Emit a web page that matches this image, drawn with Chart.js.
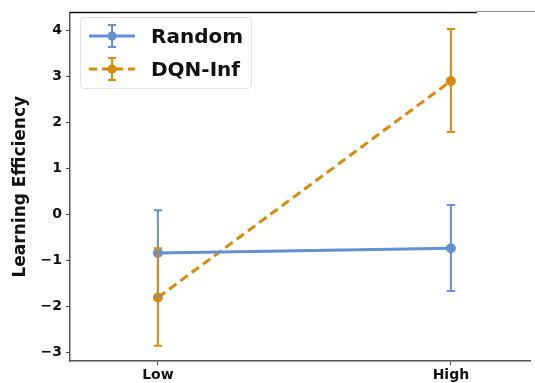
<!DOCTYPE html>
<html>
<head>
<meta charset="utf-8">
<script src="https://cdn.jsdelivr.net/npm/chart.js@4/dist/chart.umd.min.js"></script>
<style>
  body { margin: 0; background: #fff; }
  #wrap { position: relative; width: 535px; height: 383px; }
  #legend {
    position: absolute; left: 80px; top: 17px; width: 170px; height: 70px;
    border: 1px solid #e2e2e2; border-radius: 4px; background: rgba(255,255,255,0.9);
    font-family: "DejaVu Sans", sans-serif; font-weight: bold; font-size: 20px; color: #111;
  }
  .row { position: absolute; left: 8px; height: 30px; display: flex; align-items: center; }
  .row span { margin-left: 16px; }
</style>
</head>
<body>
<div id="wrap">
  <canvas id="chart" width="535" height="383"></canvas>
  <div id="legend">
    <div class="row" style="top:3px">
      <svg width="46" height="30"><line x1="0" y1="15" x2="46" y2="15" stroke="#6390d2" stroke-width="3"/><line x1="23" y1="4" x2="23" y2="26" stroke="#6390d2" stroke-width="2"/><line x1="19" y1="4" x2="27" y2="4" stroke="#6390d2" stroke-width="2"/><line x1="19" y1="26" x2="27" y2="26" stroke="#6390d2" stroke-width="2"/><circle cx="23" cy="15" r="4.5" fill="#6390d2"/></svg>
      <span>Random</span>
    </div>
    <div class="row" style="top:36px">
      <svg width="46" height="30"><line x1="0" y1="15" x2="46" y2="15" stroke="#d98a0c" stroke-width="3" stroke-dasharray="8 5"/><line x1="23" y1="4" x2="23" y2="26" stroke="#d98a0c" stroke-width="2"/><line x1="19" y1="4" x2="27" y2="4" stroke="#d98a0c" stroke-width="2"/><line x1="19" y1="26" x2="27" y2="26" stroke="#d98a0c" stroke-width="2"/><circle cx="23" cy="15" r="4.5" fill="#d98a0c"/></svg>
      <span>DQN-Inf</span>
    </div>
  </div>
</div>
<script>
// data
const categories = ["Low", "High"];
const randomMean = [-0.84, -0.74];
const randomLow = [-1.78, -1.67];
const randomHigh = [0.09, 0.20];
const dqnMean = [-1.81, 2.90];
const dqnLow = [-2.86, 1.79];
const dqnHigh = [-0.74, 4.03];
const yTicks = [-3, -2, -1, 0, 1, 2, 3, 4];

const blue = "#6390d2";
const orange = "#d98a0c";
const tickFont = { family: "DejaVu Sans", weight: "bold", size: 14 };

function toPoints(vals) {
  return vals.map((v, i) => ({ x: i, y: v }));
}

// error bars drawn with the chart's own scales
const errorBars = {
  id: "errorBars",
  afterDatasetsDraw(chart) {
    const ctx = chart.ctx;
    const xs = chart.scales.x, ys = chart.scales.y;
    chart.data.datasets.forEach(ds => {
      ctx.save();
      ctx.strokeStyle = ds.borderColor;
      ctx.lineWidth = 2;
      ds.errLow.forEach((lo, i) => {
        const px = xs.getPixelForValue(i);
        const y1 = ys.getPixelForValue(lo);
        const y2 = ys.getPixelForValue(ds.errHigh[i]);
        ctx.beginPath();
        ctx.moveTo(px, y1); ctx.lineTo(px, y2);
        ctx.moveTo(px - 4, y1); ctx.lineTo(px + 4, y1);
        ctx.moveTo(px - 4, y2); ctx.lineTo(px + 4, y2);
        ctx.stroke();
      });
      ctx.restore();
    });
  }
};

// top spine
const topSpine = {
  id: "topSpine",
  afterDraw(chart) {
    const a = chart.chartArea, ctx = chart.ctx;
    ctx.save();
    ctx.strokeStyle = "#111";
    ctx.lineWidth = 1.5;
    ctx.beginPath();
    ctx.moveTo(a.left, a.top); ctx.lineTo(477, a.top);
    ctx.stroke();
    ctx.strokeStyle = "#888";
    ctx.lineWidth = 1;
    ctx.beginPath();
    ctx.moveTo(477, a.top - 1); ctx.lineTo(535, a.top - 1);
    ctx.stroke();
    ctx.restore();
  }
};

new Chart(document.getElementById("chart"), {
  type: "line",
  data: {
    datasets: [
      {
        label: "Random",
        data: toPoints(randomMean),
        errLow: randomLow,
        errHigh: randomHigh,
        borderColor: blue,
        backgroundColor: blue,
        borderWidth: 3,
        pointRadius: 5,
        pointBorderWidth: 0
      },
      {
        label: "DQN-Inf",
        data: toPoints(dqnMean),
        errLow: dqnLow,
        errHigh: dqnHigh,
        borderColor: orange,
        backgroundColor: orange,
        borderWidth: 3,
        borderDash: [9, 5],
        pointRadius: 5,
        pointBorderWidth: 0
      }
    ]
  },
  options: {
    responsive: false,
    animation: false,
    layout: { padding: { top: 7, right: 0, left: 0, bottom: 0 } },
    plugins: { legend: { display: false }, tooltip: { enabled: false } },
    scales: {
      x: {
        type: "linear",
        min: -0.3,
        max: 1.27,
        afterBuildTicks: s => { s.ticks = [{ value: 0 }, { value: 1 }]; },
        afterFit: s => { s.height = 22; },
        ticks: {
          callback: v => categories[v],
          color: "#111",
          font: tickFont,
          padding: 2,
          maxRotation: 0
        },
        grid: { drawOnChartArea: false, tickLength: 4, color: "#444" },
        border: { color: "#555", width: 1.5 }
      },
      y: {
        min: -3.19,
        max: 4.39,
        afterBuildTicks: s => { s.ticks = yTicks.map(v => ({ value: v })); },
        afterFit: s => { s.width = 70; },
        ticks: {
          callback: v => (v < 0 ? "\u2212" + Math.abs(v) : String(v)),
          color: "#111",
          font: tickFont,
          padding: 4
        },
        grid: { drawOnChartArea: false, tickLength: 4, color: "#444" },
        border: { color: "#555", width: 1.5 },
        title: {
          display: true,
          text: "Learning Efficiency",
          color: "#111",
          font: { family: "DejaVu Sans", weight: "bold", size: 17 },
          padding: { top: 10, bottom: 2 }
        }
      }
    }
  },
  plugins: [errorBars, topSpine]
});
</script>
</body>
</html>
